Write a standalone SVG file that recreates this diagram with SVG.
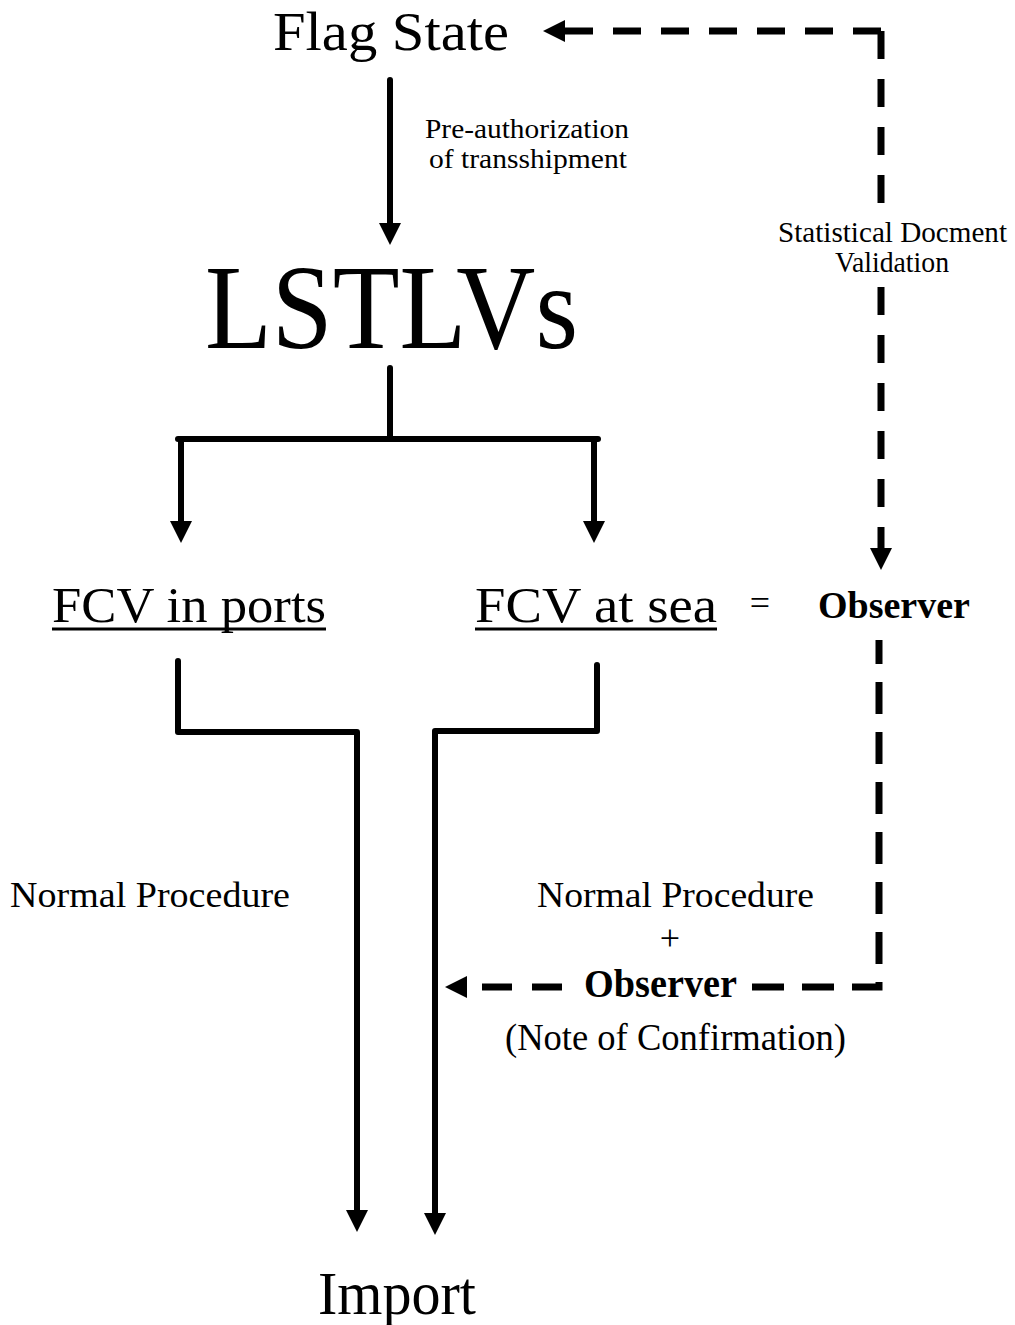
<svg xmlns="http://www.w3.org/2000/svg" width="1015" height="1325" viewBox="0 0 1015 1325">
<style>
  text { font-family: "Liberation Serif", "Times New Roman", serif; fill: #000; }
  .solid { fill: none; stroke: #000; stroke-width: 6; stroke-linecap: round; stroke-linejoin: round; }
  .dash { fill: none; stroke: #000; stroke-width: 7; stroke-linecap: butt; stroke-dasharray: 28 20; }
  .dash2 { fill: none; stroke: #000; stroke-width: 7; stroke-linecap: butt; stroke-dasharray: 32 18; }
  .ul { stroke: #000; stroke-width: 3; }
</style>
<defs>
  <marker id="arr" markerUnits="userSpaceOnUse" markerWidth="22" markerHeight="22" viewBox="0 0 22 22" refX="4" refY="11" orient="auto">
    <path d="M0,0 L22,11 L0,22 z" fill="#000"/>
  </marker>
  <marker id="arrd" markerUnits="userSpaceOnUse" markerWidth="22" markerHeight="22" viewBox="0 0 22 22" refX="1" refY="11" orient="auto">
    <path d="M0,0 L22,11 L0,22 z" fill="#000"/>
  </marker>
</defs>
<rect width="1015" height="1325" fill="#fff"/>

<g id="connectors">
  <path class="solid" d="M390 80 V227" marker-end="url(#arr)"/>
  <path class="solid" d="M390 368 V437"/>
  <path class="solid" d="M178 439 H598"/>
  <path class="solid" d="M181 439 V525" marker-end="url(#arr)"/>
  <path class="solid" d="M594 439 V525" marker-end="url(#arr)"/>
  <path class="solid" d="M178 661 V732 H357 V1214" marker-end="url(#arr)"/>
  <path class="solid" d="M597 665 V731 H435 V1217" marker-end="url(#arr)"/>
  <path class="dash" d="M881 31 H564" marker-end="url(#arrd)"/>
  <path class="dash" d="M881 31 V205"/>
  <path class="dash" d="M881 287 V549" marker-end="url(#arrd)"/>
  <path class="dash2" d="M752 987 H879 V640"/>
  <path class="dash" style="stroke-dasharray:30 20" d="M562 987 H466" marker-end="url(#arrd)"/>
</g>

<g id="flag-state">
  <text x="273" y="50" font-size="55" textLength="236" lengthAdjust="spacingAndGlyphs">Flag State</text>
</g>
<g id="label-preauth">
  <text x="425" y="138" font-size="28" textLength="204" lengthAdjust="spacingAndGlyphs">Pre-authorization</text>
  <text x="429" y="168" font-size="28" textLength="198" lengthAdjust="spacingAndGlyphs">of transshipment</text>
</g>
<g id="label-validation">
  <text x="778" y="242" font-size="30" textLength="229" lengthAdjust="spacingAndGlyphs">Statistical Docment</text>
  <text x="835" y="272" font-size="30" textLength="114" lengthAdjust="spacingAndGlyphs">Validation</text>
</g>
<g id="lstlvs">
  <text x="205" y="348" font-size="120" textLength="373" lengthAdjust="spacingAndGlyphs">LSTLVs</text>
</g>
<g id="fcv-ports">
  <text x="52" y="622" font-size="50" textLength="274" lengthAdjust="spacingAndGlyphs">FCV in ports</text>
  <line class="ul" x1="52" y1="629" x2="326" y2="629"/>
</g>
<g id="fcv-sea">
  <text x="475" y="622" font-size="50" textLength="242" lengthAdjust="spacingAndGlyphs">FCV at sea</text>
  <line class="ul" x1="475" y1="629" x2="717" y2="629"/>
</g>
<g id="observer">
  <text x="760" y="615" font-size="36" text-anchor="middle">=</text>
  <text x="818" y="618" font-size="38" font-weight="bold" textLength="152" lengthAdjust="spacingAndGlyphs">Observer</text>
</g>
<g id="label-normal-left">
  <text x="10" y="907" font-size="36" textLength="280" lengthAdjust="spacingAndGlyphs">Normal Procedure</text>
</g>
<g id="label-normal-right">
  <text x="537" y="907" font-size="36" textLength="277" lengthAdjust="spacingAndGlyphs">Normal Procedure</text>
  <text x="670" y="950" font-size="36" text-anchor="middle">+</text>
  <text x="584" y="997" font-size="40" font-weight="bold" textLength="153" lengthAdjust="spacingAndGlyphs">Observer</text>
  <text x="505" y="1050" font-size="38" textLength="341" lengthAdjust="spacingAndGlyphs">(Note of Confirmation)</text>
</g>
<g id="import">
  <text x="318" y="1314" font-size="62" textLength="158" lengthAdjust="spacingAndGlyphs">Import</text>
</g>
</svg>
